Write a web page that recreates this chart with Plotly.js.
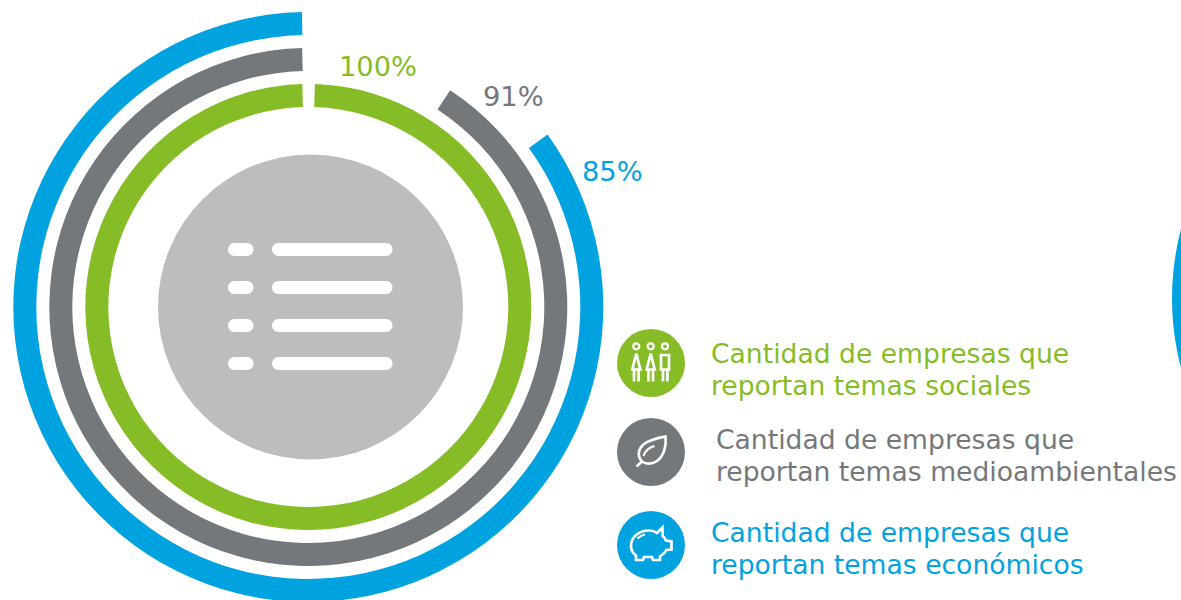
<!DOCTYPE html>
<html><head><meta charset="utf-8">
<script src="https://cdn.plot.ly/plotly-3.0.1.min.js"></script>
<style>html,body{margin:0;padding:0;background:#fff;overflow:hidden;width:1181px;height:600px}#c{width:1181px;height:640px}</style>
</head><body><div id="c"></div>
<script>
// Data
const seriesNames = ['Económicos', 'Medioambientales', 'Sociales'];
const shownPercent = ['85%', '91%', '100%'];
const drawnShare = [84.6, 90.4, 99.1];      // arc share as measured from the rings
const startAngle = [54.2, 33.2, 1.7];
const colors = ['#00A3E0', '#75787B', '#86BC25'];
const legendLines = [
  ['Cantidad de empresas que', 'reportan temas sociales'],
  ['Cantidad de empresas que', 'reportan temas medioambientales'],
  ['Cantidad de empresas que', 'reportan temas económicos']
];

const W = 1181, H = 640;
const X = v => v / W, Y = v => 1 - v / H;
const CX = 308.3, CY = 307, BAND = 23;
const outerR = [295, 259, 223];
const FONT = '"DejaVu Sans", Verdana, sans-serif';

const traces = seriesNames.map((n, i) => ({
  type: 'pie', name: n, sort: false, direction: 'clockwise',
  values: [drawnShare[i], 100 - drawnShare[i]],
  rotation: startAngle[i],
  hole: (outerR[i] - BAND) / outerR[i],
  domain: {x: [X(CX - outerR[i]), X(CX + outerR[i])], y: [Y(CY + outerR[i]), Y(CY - outerR[i])]},
  marker: {colors: [colors[i], 'rgba(0,0,0,0)'], line: {width: 0}},
  textinfo: 'none', hoverinfo: 'skip', showlegend: false
}));

const shapes = [];
const P = s => s.replace(/(-?[\d.]+),(-?[\d.]+)/g, (m, a, b) => X(+a).toFixed(6) + ',' + Y(+b).toFixed(6));
const circle = (x, y, r, fill, line, lw) => shapes.push({type: 'circle', xref: 'paper', yref: 'paper',
  x0: X(x - r), x1: X(x + r), y0: Y(y + r), y1: Y(y - r), fillcolor: fill, line: {width: lw || 0, color: line || fill}});
const path = (d, fill, lw) => shapes.push({type: 'path', xref: 'paper', yref: 'paper', path: P(d),
  fillcolor: fill || 'rgba(0,0,0,0)', line: {width: lw || 0, color: lw ? '#fff' : 'rgba(0,0,0,0)'}});
const pill = (x0, x1, cy, r) => {
  const k = r * 0.55;
  path(`M ${x0 + r},${cy - r} L ${x1 - r},${cy - r} C ${x1 - r + k},${cy - r} ${x1},${cy - k} ${x1},${cy} C ${x1},${cy + k} ${x1 - r + k},${cy + r} ${x1 - r},${cy + r} L ${x0 + r},${cy + r} C ${x0 + r - k},${cy + r} ${x0},${cy + k} ${x0},${cy} C ${x0},${cy - k} ${x0 + r - k},${cy - r} ${x0 + r},${cy - r} Z`, '#fff', 0);
};

// off-page ring peeking in at the right edge
circle(1172 + 270, 298.5, 270, colors[0]);

// centre disc and list glyph
circle(310.5, 307, 152.5, '#BDBDBD');
[249.5, 287.5, 325.5, 363.5].forEach(y => { pill(228, 253.5, y, 6.5); pill(272, 392.5, y, 6.5); });

// legend discs
circle(651, 363, 34, colors[2]);
circle(651, 452, 34, colors[1]);
circle(651, 545, 34, colors[0]);

// people
const SW = 2.7;
[636.3, 650.7].forEach(x => {
  circle(x, 346.3, 3, 'rgba(0,0,0,0)', '#fff', 2.2);
  path(`M ${x},353.5 L ${x + 4},369.5 L ${x - 4},369.5 Z`, null, SW);
  path(`M ${x - 2.3},370 L ${x - 2.3},381.5 M ${x + 2.3},370 L ${x + 2.3},381.5`, null, SW);
});
circle(665, 346.3, 3, 'rgba(0,0,0,0)', '#fff', 2.2);
path('M 661,355 L 669,355 L 669,369.5 L 661,369.5 Z', null, SW);
path('M 663,370 L 663,381.5 M 667.4,370 L 667.4,381.5', null, SW);

// leaf
path('M 642,461.5 C 637,456 638,449 644,444 C 650,439.5 658,438 665.5,436.5 C 666.5,446 664,456 657,461 C 652,464.5 646,464.5 642,461.5 Z', null, SW);
path('M 636.5,466.5 L 642,461.5', null, SW);
path('M 643.5,456 C 645,451 649,447.5 654.5,446', null, 2.2);

// piggy bank
path('M 631,546 C 631,536 640,530.5 649,530.5 C 652,530.5 655,531.5 657,533 L 662.5,527.5 L 662.7,536 C 664,537 665.5,539 666,540.5 L 671.5,541.5 L 671.5,549.5 L 666.5,550 C 665,553 662,555 660,556.5 L 660,560 L 653,560 L 652,557 L 644,557 L 643,560 L 636,560 L 636,555.5 C 632.5,553 631,550 631,546 Z', null, SW);
path('M 637.5,538.5 C 639.5,536.5 642,535 645,534.5', null, 2.2);

const label = (t, x, y, c, anchor, size) => ({text: t, xref: 'paper', yref: 'paper', x: X(x), y: Y(y), xanchor: anchor, yanchor: 'middle',
  showarrow: false, font: {family: FONT, size: size, color: c}, borderpad: 0});
const annotations = [
  label(shownPercent[2], 378, 66, colors[2], 'center', 27.3),
  label(shownPercent[1], 513.5, 96, colors[1], 'center', 27.3),
  label(shownPercent[0], 612.5, 171, colors[0], 'center', 27.3)
];
const legendPos = [[710, 353, colors[2]], [715, 439, colors[1]], [710, 532, colors[0]]];
legendLines.forEach((ls, i) => ls.forEach((t, j) => {
  annotations.push(label(t, legendPos[i][0], legendPos[i][1] + j * 32, legendPos[i][2], 'left', 26.6));
}));

Plotly.newPlot('c', traces, {
  width: W, height: H, margin: {l: 0, r: 0, t: 0, b: 0},
  paper_bgcolor: '#fff', plot_bgcolor: '#fff', shapes, annotations, showlegend: false
}, {displayModeBar: false, staticPlot: true});
</script></body></html>
